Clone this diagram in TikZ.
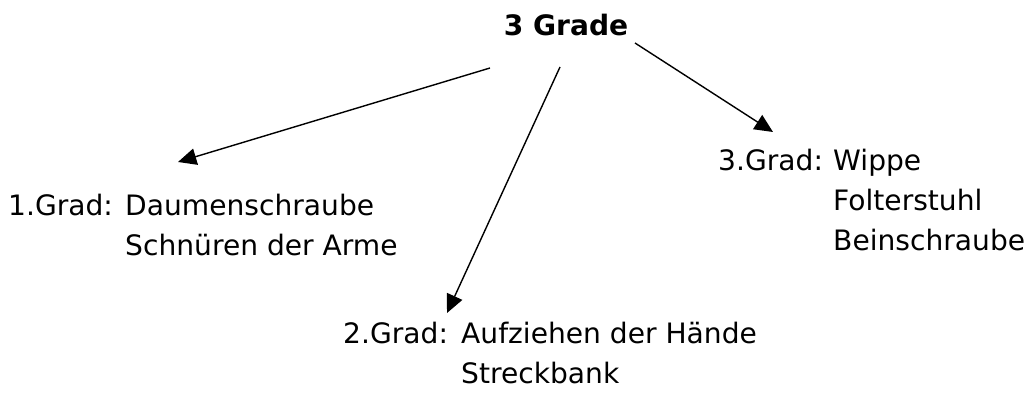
\documentclass[tikz,border=0pt]{standalone}
\usepackage{fontspec}
\setmainfont{DejaVu Sans}
\usetikzlibrary{arrows.meta,positioning}
\tikzset{
  grad/.style={font=\fontsize{24}{34}\selectfont, inner sep=0pt, anchor=base west, align=left},
  pfeil/.style={-{Triangle[length=5.5mm,width=5mm]}, line width=1.2pt}
}
\begin{document}
\begin{tikzpicture}[x=0.03cm,y=-0.03cm]
  \useasboundingbox (0,0) rectangle (1033,396);
  % Oberbegriff
  \node[grad,font=\bfseries\fontsize{24}{34}\selectfont,anchor=base] (titel) at (566,36) {3 Grade};
  % die drei Grade (Basislinie = letzte Zeile)
  \node[grad] (g1) at (8,215) {1.Grad:};
  \node[grad] (g1l) at (125,255) {Daumenschraube\\Schnüren der Arme};
  \node[grad] (g2) at (343,343) {2.Grad:};
  \node[grad] (g2l) at (461,383) {Aufziehen der Hände\\Streckbank};
  \node[grad] (g3) at (718,170) {3.Grad:};
  \node[grad] (g3l) at (833,250) {Wippe\\Folterstuhl\\Beinschraube};
  % Pfeile
  \coordinate (a1) at (490,68);
  \coordinate (a2) at (560,67);
  \coordinate (a3) at (635,43);
  \coordinate (e1) at (178,162);
  \coordinate (e2) at (447,313);
  \coordinate (e3) at (773,132);
  \draw[pfeil] (a1) -- (e1);
  \draw[pfeil] (a2) -- (e2);
  \draw[pfeil] (a3) -- (e3);
\end{tikzpicture}
\end{document}
